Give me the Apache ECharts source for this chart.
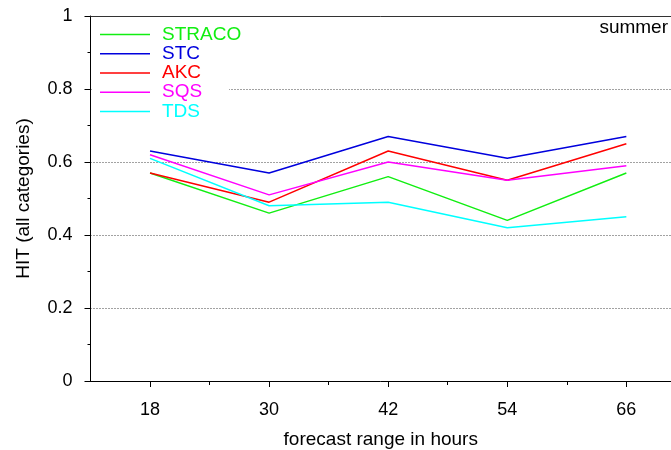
<!DOCTYPE html>
<html>
<head>
<meta charset="utf-8">
<script src="https://cdn.jsdelivr.net/npm/echarts@6/dist/echarts.min.js"></script>
<style>
  html, body { margin: 0; padding: 0; background: #fff; }
  #chart { width: 671px; height: 450px; }
</style>
</head>
<body>
<div id="chart"></div>
<script>
// forecast ranges (hours)
const hours = [18, 30, 42, 54, 66];
const minorHours = [24, 36, 48, 60];
const seriesNames = ['STRACO', 'STC', 'AKC', 'SQS', 'TDS'];
const seriesColors = ['#11ee11', '#0000dd', '#ff0000', '#ff00ff', '#00ffff'];
// HIT values per model
const straco = [0.57, 0.46, 0.56, 0.44, 0.57];
const stc = [0.63, 0.57, 0.67, 0.61, 0.67];
const akc = [0.57, 0.49, 0.63, 0.55, 0.65];
const sqs = [0.62, 0.51, 0.60, 0.55, 0.59];
const tds = [0.61, 0.48, 0.49, 0.42, 0.45];
const allValues = [straco, stc, akc, sqs, tds];

const font = 'Liberation Sans, Arial, sans-serif';
const chart = echarts.init(document.getElementById('chart'));

const series = seriesNames.map((name, i) => ({
  name: name,
  type: 'line',
  xAxisIndex: 0,
  symbol: 'none',
  lineStyle: { color: seriesColors[i], width: 1.5 },
  itemStyle: { color: seriesColors[i] },
  data: hours.map((h, j) => [h, allValues[i][j]])
}));

const option = {
  animation: false,
  title: {
    text: 'summer',
    right: 3,
    top: 18,
    padding: 0,
    textStyle: { fontFamily: font, fontSize: 19, fontWeight: 'normal', color: '#000' }
  },
  // white patch behind the key, so the 0.8 grid line starts after it
  graphic: [{
    type: 'rect',
    left: 92,
    top: 84,
    z: 1,
    shape: { width: 137, height: 10 },
    style: { fill: '#fff' }
  }],
  legend: {
    orient: 'vertical',
    left: 92,
    top: 17,
    padding: [8, 7, 6, 8],
    itemWidth: 50,
    itemHeight: 14,
    itemGap: 0.25,
    icon: 'path://M0,0 L50,0 L50,1.5 L0,1.5 Z',
    textStyle: { fontFamily: font, fontSize: 19, padding: [0, 0, 0, 7] },
    data: seriesNames.map((n, i) => ({ name: n, textStyle: { color: seriesColors[i] } }))
  },
  grid: { left: 90.5, right: 0, top: 16, bottom: 69, outerBoundsMode: 'none' },
  xAxis: [
    {
      type: 'value',
      min: 12,
      max: 70.5,
      position: 'bottom',
      name: 'forecast range in hours',
      nameLocation: 'middle',
      nameGap: 49,
      nameTextStyle: { fontFamily: font, fontSize: 19, color: '#000' },
      axisLine: { show: true, onZero: false, lineStyle: { color: '#000', width: 1 } },
      axisTick: { show: true, length: 6, customValues: hours, lineStyle: { color: '#000' } },
      axisLabel: { customValues: hours, margin: 20, fontFamily: font, fontSize: 18, color: '#000' },
      splitLine: { show: false }
    },
    {
      type: 'value',
      min: 12,
      max: 70.5,
      position: 'bottom',
      axisLine: { show: false },
      axisTick: { show: true, length: 4, customValues: minorHours, lineStyle: { color: '#000' } },
      axisLabel: { show: false },
      splitLine: { show: false }
    },
    {
      type: 'value',
      min: 12,
      max: 70.5,
      position: 'top',
      axisLine: { show: true, lineStyle: { color: '#333', width: 1 } },
      axisTick: { show: false },
      axisLabel: { show: false },
      splitLine: { show: false }
    }
  ],
  yAxis: {
    type: 'value',
    min: 0,
    max: 1,
    interval: 0.2,
    name: 'HIT (all categories)',
    nameLocation: 'middle',
    nameGap: 57,
    nameTextStyle: { fontFamily: font, fontSize: 19, color: '#000' },
    axisLine: { show: true, lineStyle: { color: '#000', width: 1 } },
    axisTick: { show: true, length: 6, lineStyle: { color: '#000' } },
    minorTick: { show: true, splitNumber: 2, length: 3, lineStyle: { color: '#000' } },
    axisLabel: {
      margin: 18,
      fontFamily: font,
      fontSize: 18,
      color: '#000',
      formatter: v => String(Math.round(v * 10) / 10)
    },
    splitLine: { show: true, lineStyle: { color: '#444', type: [1, 2], width: 1 } }
  },
  series: series
};

chart.setOption(option);
</script>
</body>
</html>
